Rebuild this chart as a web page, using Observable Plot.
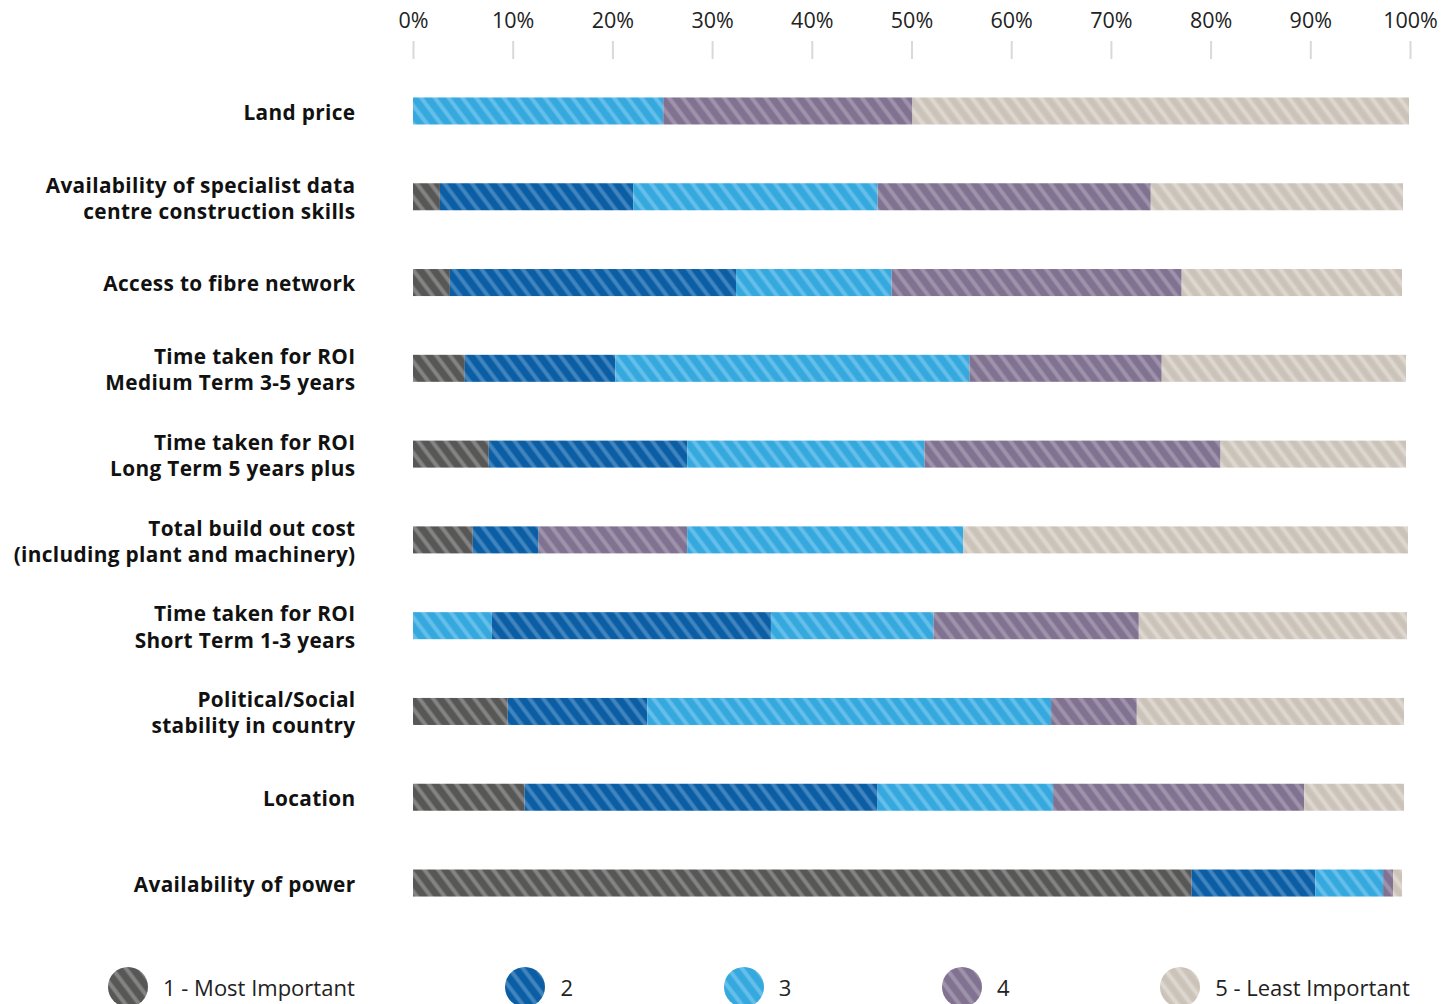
<!DOCTYPE html>
<html><head><meta charset="utf-8">
<script src="https://cdn.jsdelivr.net/npm/d3@7"></script>
<script src="https://cdn.jsdelivr.net/npm/@observablehq/plot@0.6"></script>
<style>
body{margin:0;background:#fff;font-family:"Open Sans", sans-serif;}
#legend{display:flex;justify-content:space-between;align-items:center;padding:7px 44px 0 108px;height:40px;}
.item{display:flex;align-items:center;gap:15px;font-size:22px;color:#222;white-space:nowrap;}
.item svg{display:block;}
g[aria-label="text"] text{letter-spacing:0.35px;}
</style></head><body>
<svg id="defs" width="0" height="0" style="position:absolute"></svg>
<div id="chart"></div>
<div id="legend"></div>
<script>
const categories = [
  "Land price",
  "Availability of specialist data\ncentre construction skills",
  "Access to fibre network",
  "Time taken for ROI\nMedium Term 3-5 years",
  "Time taken for ROI\nLong Term 5 years plus",
  "Total build out cost\n(including plant and machinery)",
  "Time taken for ROI\nShort Term 1-3 years",
  "Political/Social\nstability in country",
  "Location",
  "Availability of power"
];
// values of the five stacked segments, in left-to-right order (percent)
const seg1 = [0,    2.7,  3.7,  5.2,  7.6,  6.0,  7.9,  9.5, 11.2, 78.1];
const seg2 = [0,   19.4, 28.7, 15.1, 19.9,  6.6, 28.0, 14.0, 35.4, 12.4];
const seg3 = [25.1, 24.5, 15.6, 35.5, 23.8, 14.9, 16.3, 40.5, 17.6,  6.8];
const seg4 = [25.0, 27.4, 29.1, 19.3, 29.7, 27.7, 20.6,  8.6, 25.2,  1.0];
const seg5 = [49.8, 25.3, 22.1, 24.5, 18.6, 44.6, 26.9, 26.8, 10.0,  0.9];
// rank key used to colour each segment of each row, as drawn in the source
const segmentKeys = ["12345","12345","12345","12345","12345","12435","32345","12345","12345","12345"];
const rankKeys = ["1","2","3","4","5"];
const rankLabels = ["1 - Most Important","2","3","4","5 - Least Important"];
const baseColors   = ["#575756","#0b5da4","#35a8de","#807290","#cdc5bb"];
const stripeColors = ["#848484","#4185bf","#66bfea","#9f93ac","#ded7cf"];
const tickValues = [0,10,20,30,40,50,60,70,80,90,100];

// hatch patterns
const defs = d3.select("#defs").append("defs");
rankKeys.forEach((k,i)=>{
  const p = defs.append("pattern").attr("id","hatch-"+k).attr("patternUnits","userSpaceOnUse")
    .attr("width",11).attr("height",11).attr("patternTransform","rotate(-37)");
  p.append("rect").attr("width",11).attr("height",11).attr("fill",baseColors[i]);
  p.append("rect").attr("x",0).attr("width",5).attr("height",11).attr("fill",stripeColors[i]).attr("opacity",0.5);
  p.append("rect").attr("x",1).attr("width",3).attr("height",11).attr("fill",stripeColors[i]);
  if (k==="5") p.append("rect").attr("x",7.5).attr("width",1).attr("height",11).attr("fill","#c3b9ae").attr("opacity",0.6);
});

const segs = [seg1,seg2,seg3,seg4,seg5];
const table = [];
categories.forEach((c,i)=>{
  segs.forEach((s,j)=>{
    table.push({category:c, seg:j, key:segmentKeys[i][j], value:s[i]});
  });
});

const chart = Plot.plot({
  width:1454, height:960,
  marginTop:58, marginLeft:413, marginRight:44, marginBottom:24,
  style:{fontFamily:"'Open Sans', sans-serif", background:"#fff", overflow:"visible"},
  x:{domain:[0,100]},
  y:{domain:categories, axis:null, paddingInner:0.685, paddingOuter:0.46, align:0.5, round:false},
  color:{domain:rankKeys, range:rankKeys.map(k=>`url(#hatch-${k})`)},
  marks:[
    Plot.axisX({anchor:"top", ticks:tickValues, tickFormat:d=>d+"%", tickSize:18, tickPadding:13,
      stroke:"#d9d9d9", strokeWidth:2, fill:"#222", fontSize:21.5, label:null}),
    Plot.barX(table, Plot.stackX({x:"value", y:"category", z:"seg", fill:"key", order:null})),
    Plot.text(categories, {y:d=>d, frameAnchor:"left", textAnchor:"end", dx:-58,
      fontSize:20.8, fontWeight:"bold", lineHeight:1.26, fill:"#111"})
  ]
});
document.getElementById("chart").append(chart);

const legend = d3.select("#legend");
rankKeys.forEach((k,i)=>{
  const it = legend.append("div").attr("class","item");
  const s = it.append("svg").attr("width",40).attr("height",40);
  s.append("circle").attr("cx",20).attr("cy",20).attr("r",20).attr("fill",`url(#hatch-${k})`);
  it.append("span").text(rankLabels[i]);
});
</script></body></html>
